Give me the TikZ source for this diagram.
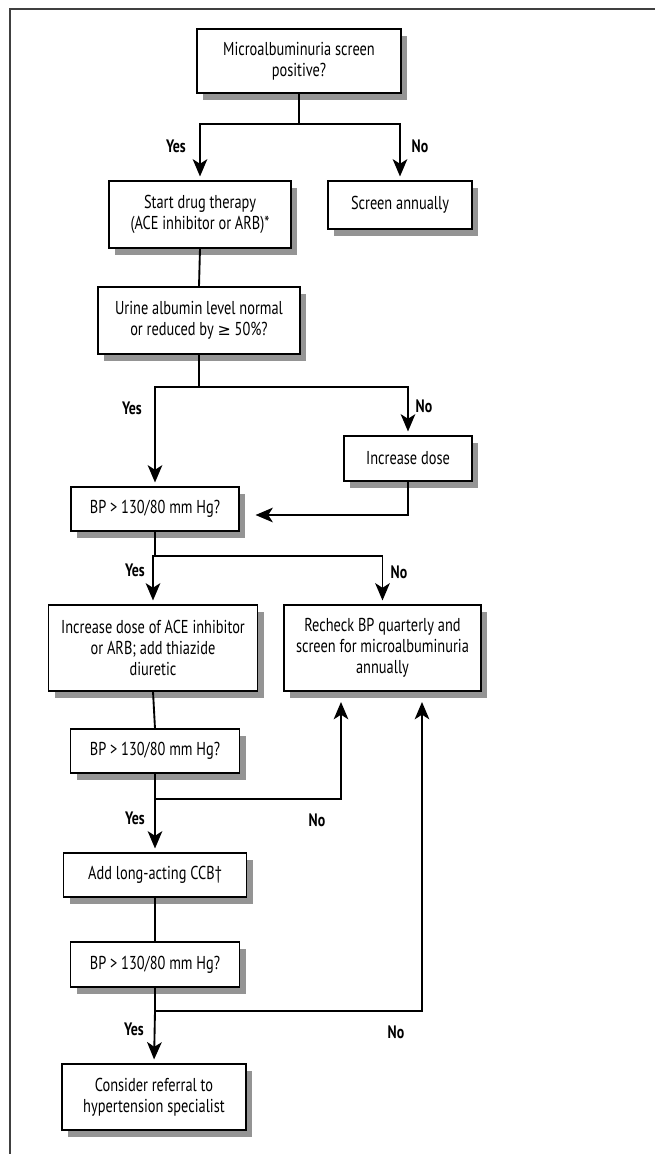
\documentclass[tikz,border=0pt]{standalone}
\usepackage{fontspec}
\setmainfont{PT Sans}[FakeStretch=0.77]
\newfontfamily\symfont{DejaVu Sans}[Scale=0.85]
\usetikzlibrary{arrows.meta,shadows}

\tikzset{
  box/.style={draw=black, line width=0.8pt, fill=white, align=center, inner sep=2pt,
    drop shadow={shadow xshift=4.5pt, shadow yshift=-5pt, fill=black!42, opacity=1},
    font=\fontsize{14}{15.8}\selectfont},
  link/.style={line width=1.4pt},
  arrow/.style={link, shorten >=3pt, -{Stealth[length=13pt, width=11pt, inset=3.5pt]}},
  answer/.style={font=\bfseries\fontsize{13.5}{15}\selectfont}
}

\begin{document}
\begin{tikzpicture}[x=0.75pt, y=-0.75pt]
    \def\px{0.75pt}
    \useasboundingbox (0,0) rectangle (655,1154);

    % frame
    \draw[line width=1.4pt, color=black!75] (10,1154) -- (10,9) -- (655,9);

    % Boxes
    \node[box, minimum width=204*\px, minimum height=64*\px] (Screen) at (299,61) {Microalbuminuria screen\\positive?};
    \node[box, minimum width=182*\px, minimum height=67*\px] (Drug) at (200,214.5) {Start drug therapy\\(ACE inhibitor or ARB)*};
    \node[box, minimum width=144*\px, minimum height=48*\px] (Annual) at (400,205) {Screen annually};
    \node[box, minimum width=202*\px, minimum height=67*\px] (Urine) at (199,320.5) {Urine albumin level normal\\or reduced by {\symfont ≥} 50\%?};
    \node[box, minimum width=168*\px, minimum height=44*\px] (BPa) at (155,509) {BP > 130/80 mm Hg?};
    \node[box, minimum width=128*\px, minimum height=45*\px] (IncDose) at (408,458.5) {Increase dose};
    \node[box, minimum width=209*\px, minimum height=86*\px] (IncACE) at (153,648) {Increase dose of ACE inhibitor\\or ARB; add thiazide\\diuretic};
    \node[box, minimum width=197*\px, minimum height=86*\px] (Recheck) at (382.5,648) {Recheck BP quarterly and\\screen for microalbuminuria\\annually};
    \node[box, minimum width=169*\px, minimum height=44*\px] (BPb) at (155,751) {BP > 130/80 mm Hg?};
    \node[box, minimum width=183*\px, minimum height=44*\px] (CCB) at (155,875) {Add long-acting CCB†};
    \node[box, minimum width=169*\px, minimum height=45*\px] (BPc) at (155,964.5) {BP > 130/80 mm Hg?};
    \node[box, minimum width=184*\px, minimum height=66*\px] (Referral) at (154,1097) {Consider referral to\\hypertension specialist};

    % Splits
    \coordinate (SplitA) at (299,124);
    \coordinate (SplitB) at (199,387);
    \coordinate (SplitC) at (155,556);
    \coordinate (SplitD) at (155,799);
    \coordinate (SplitE) at (155,1011);
    \coordinate (TipA) at (341,698);
    \coordinate (TipB) at (422,698);

    \draw[link] (Screen.south) -- (SplitA);
    \draw[arrow] (SplitA) -| (Drug.north);
    \draw[arrow] (SplitA) -| (Annual.north);

    \draw[link] (Drug.south) -- (Urine.north);

    \draw[link] (Urine.south) -- (SplitB);
    \draw[arrow] (SplitB) -| (BPa.north);
    \draw[arrow] (SplitB) -| (IncDose.north);
    \draw[arrow] (IncDose.south) |- ([xshift=9pt,yshift=-4.5pt]BPa.east);

    \draw[link] (BPa.south) -- (SplitC);
    \draw[arrow] (SplitC) -| (IncACE.north);
    \draw[arrow] (SplitC) -| (Recheck.north);

    \draw[link] (IncACE.south) -- (BPb.north);
    \draw[link] (BPb.south) -- (SplitD);
    \draw[arrow] (SplitD) -- (CCB.north);
    \draw[arrow] (SplitD) -| (TipA);

    \draw[link] (CCB.south) -- (BPc.north);
    \draw[link] (BPc.south) -- (SplitE);
    \draw[arrow] (SplitE) -- (Referral.north);
    \draw[arrow] (SplitE) -| (TipB);

    % Yes / No
    \node[answer] (YesA) at (176,146) {Yes};
    \node[answer] (NoA) at (420,146) {No};
    \node[answer] (YesB) at (132,408) {Yes};
    \node[answer] (NoB) at (424,406) {No};
    \node[answer] (YesC) at (135,570) {Yes};
    \node[answer] (NoC) at (399,572) {No};
    \node[answer] (YesD) at (135,818) {Yes};
    \node[answer] (NoD) at (317,820) {No};
    \node[answer] (YesE) at (134,1029) {Yes};
    \node[answer] (NoE) at (396,1032) {No};

\end{tikzpicture}
\end{document}
